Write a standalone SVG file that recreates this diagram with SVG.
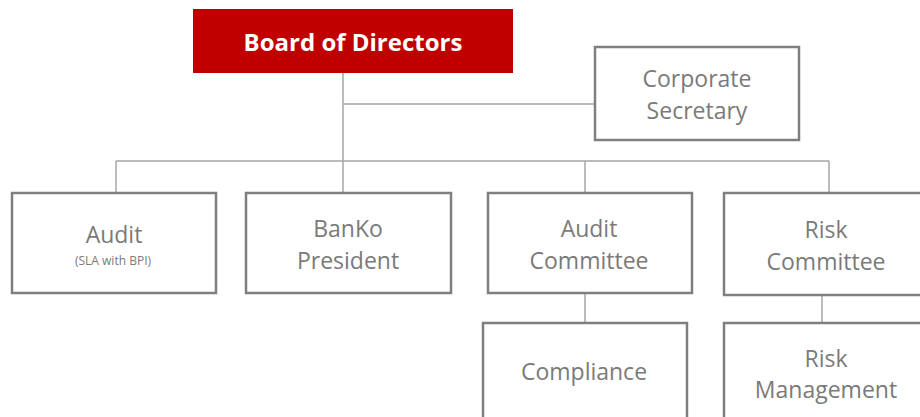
<svg xmlns="http://www.w3.org/2000/svg" width="920" height="417" viewBox="0 0 920 417">
<style>
.box{fill:#fff;stroke:#7f7f7f;stroke-width:2.5}
.t{font-family:"Open Sans","Liberation Sans",sans-serif;font-size:23px;fill:#7a7a7a;text-anchor:middle}
.s{font-family:"Open Sans","Liberation Sans",sans-serif;font-size:12px;fill:#7a7a7a;text-anchor:middle}
.c{fill:none;stroke:#a6a6a6;stroke-width:1.5}
</style>
<rect width="920" height="417" fill="#fff"/>
<g id="connectors">
<path class="c" d="M343,73 V192 M343,104 H594 M116,161 H829 M116,161 V192 M585,161 V192 M829,161 V192 M585,293 V322 M822,295 V322"/>
</g>
<g id="board">
<rect x="193" y="9" width="320" height="64" fill="#c00000"/>
<text x="353" y="51" font-family="Open Sans, Liberation Sans, sans-serif" font-size="24" font-weight="bold" fill="#fff" text-anchor="middle">Board of Directors</text>
</g>
<g id="corpsec">
<rect class="box" x="595" y="47" width="204" height="93"/>
<text class="t" x="697" y="87">Corporate</text>
<text class="t" x="697" y="119">Secretary</text>
</g>
<g id="audit">
<rect class="box" x="12" y="193" width="204" height="100"/>
<text class="t" x="114" y="243">Audit</text>
<text class="s" x="113" y="265">(SLA with BPI)</text>
</g>
<g id="banko">
<rect class="box" x="246" y="193" width="205" height="100"/>
<text class="t" x="348" y="237">BanKo</text>
<text class="t" x="348" y="269">President</text>
</g>
<g id="auditcommittee">
<rect class="box" x="488" y="193" width="204" height="100"/>
<text class="t" x="589" y="237">Audit</text>
<text class="t" x="589" y="269">Committee</text>
</g>
<g id="riskcommittee">
<rect class="box" x="724" y="193" width="206" height="102"/>
<text class="t" x="826" y="238">Risk</text>
<text class="t" x="826" y="270">Committee</text>
</g>
<g id="compliance">
<rect class="box" x="483" y="323" width="204" height="110"/>
<text class="t" x="584" y="380">Compliance</text>
</g>
<g id="riskmanagement">
<rect class="box" x="724" y="323" width="206" height="110"/>
<text class="t" x="826" y="367">Risk</text>
<text class="t" x="826" y="398">Management</text>
</g>
</svg>
